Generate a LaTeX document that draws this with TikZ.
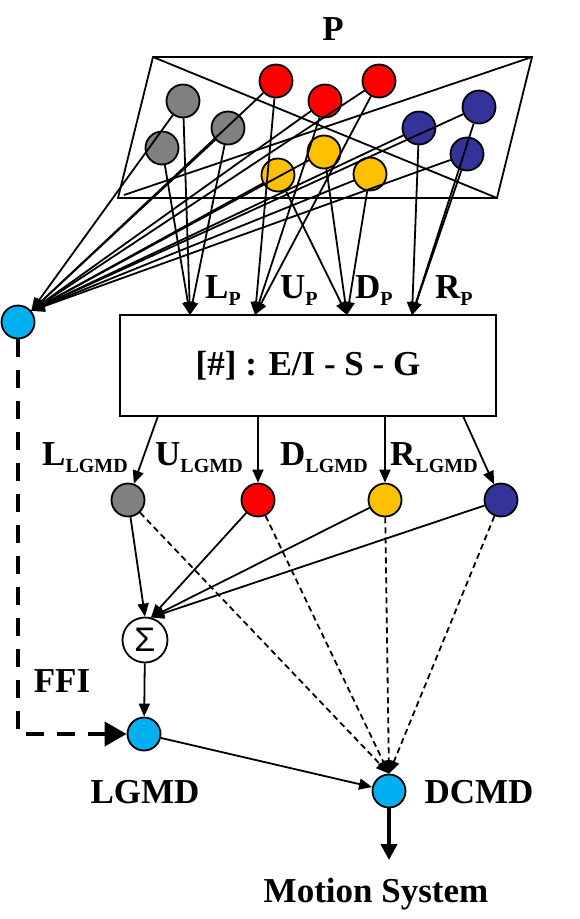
\documentclass[tikz,border=0pt]{standalone}
\usepackage{fontspec}
\setmainfont{Liberation Serif}
\newfontfamily\sigmafont{Liberation Sans}
\usepackage{xcolor}
\usepackage{tikz}
\usetikzlibrary{arrows.meta}
\definecolor{cellgray}{HTML}{808080}
\definecolor{cellred}{HTML}{FF0000}
\definecolor{cellyellow}{HTML}{FFC000}
\definecolor{cellblue}{HTML}{333399}
\definecolor{cellcyan}{HTML}{00B0F0}
\newcommand\subs[1]{\raisebox{-7pt}{\fontsize{20}{20}\selectfont #1}}
\tikzstyle{cell}=[circle, draw, line width=1.8pt, minimum size=33pt, inner sep=0pt]
\tikzstyle{sumcell}=[circle, draw, line width=1.8pt, fill=white, minimum size=45pt,
        inner sep=0pt, font=\sigmafont\fontsize{34}{34}\selectfont]
\tikzstyle{layerbox}=[rectangle, draw, line width=1.8pt, minimum width=376pt,
        minimum height=101pt, font=\fontsize{35}{40}\selectfont\bfseries]
\tikzstyle{lbl}=[inner sep=0pt, anchor=base, font=\fontsize{35}{40}\selectfont\bfseries]
\tikzstyle{arr}=[line width=1.8pt, -{Triangle[length=13pt,width=11pt]}]
\tikzstyle{darr}=[arr, dash pattern=on 6pt off 4pt]
\tikzstyle{ffiarr}=[line width=4pt, dash pattern=on 18pt off 13pt,
        -{Triangle[length=22pt,width=24pt]}]
\tikzstyle{outarr}=[line width=4pt, -{Triangle[length=16pt,width=16pt]}]

\begin{document}
\begin{tikzpicture}[x=1pt, y=-1pt]
      \useasboundingbox (0,0) rectangle (579,919);
      % Plane P
      \draw [line width=1.8pt] (153,57) -- (532,57) -- (497,198) -- (118,198) -- cycle;
      \draw [line width=1.8pt] (153,57) -- (497,198);
      \draw [line width=1.8pt] (532,57) -- (124,195);
      \node [lbl] (ptitle) at (333,40) {P};
      % Place nodes
      \node [cell, fill=cellgray] (g1) at (183,101) {};
      \node [cell, fill=cellgray] (g2) at (228,128) {};
      \node [cell, fill=cellgray] (g3) at (162,148) {};
      \node [cell, fill=cellred] (r1) at (276,81) {};
      \node [cell, fill=cellred] (r2) at (325,101) {};
      \node [cell, fill=cellred] (r3) at (379,81) {};
      \node [cell, fill=cellyellow] (y1) at (278,175) {};
      \node [cell, fill=cellyellow] (y2) at (324,152) {};
      \node [cell, fill=cellyellow] (y3) at (370,174) {};
      \node [cell, fill=cellblue] (b1) at (419,128) {};
      \node [cell, fill=cellblue] (b2) at (479,107) {};
      \node [cell, fill=cellblue] (b3) at (467,154) {};
      \node [cell, fill=cellcyan] (ffi) at (18,322) {};
      \node [layerbox] (layer) at (308,365.5) {[\#] : E/I - S - G};
      \coordinate (pL) at (190,315);
      \coordinate (pU) at (255,315);
      \coordinate (pD) at (347,315);
      \coordinate (pR) at (412,315);
      \coordinate (qL) at (158,416);
      \coordinate (qU) at (258,416);
      \coordinate (qD) at (385,416);
      \coordinate (qR) at (463,416);
      \node [lbl, anchor=base west] (lp) at (205,298) {L\subs{P}};
      \node [lbl, anchor=base west] (up) at (280,298) {U\subs{P}};
      \node [lbl, anchor=base west] (dp) at (355,298) {D\subs{P}};
      \node [lbl, anchor=base west] (rp) at (435,298) {R\subs{P}};
      \node [cell, fill=cellgray] (lg) at (128,500) {};
      \node [cell, fill=cellred] (lr) at (258,500) {};
      \node [cell, fill=cellyellow] (ly) at (385,500) {};
      \node [cell, fill=cellblue] (lb) at (501,500) {};
      \node [lbl, anchor=base west] (llgmd) at (42,465) {L\subs{LGMD}};
      \node [lbl, anchor=base west] (ulgmd) at (155,465) {U\subs{LGMD}};
      \node [lbl, anchor=base west] (dlgmd) at (280,465) {D\subs{LGMD}};
      \node [lbl, anchor=base west] (rlgmd) at (390,465) {R\subs{LGMD}};
      \node [sumcell] (sum) at (145,640) {Σ};
      \node [cell, fill=cellcyan] (lgmd) at (144,734) {};
      \node [cell, fill=cellcyan] (dcmd) at (389,791) {};
      \coordinate (mout) at (389,860);
      \node [lbl] (ffilbl) at (62,692) {FFI};
      \node [lbl] (lgmdlbl) at (145,803) {LGMD};
      \node [lbl] (dcmdlbl) at (479,803) {DCMD};
      \node [lbl] (motion) at (376,902) {Motion System};
      % Draw edges
      \draw [arr] (g1) -- (pL); \draw [arr] (g2) -- (pL); \draw [arr] (g3) -- (pL);
      \draw [arr] (r1) -- (pU); \draw [arr] (r2) -- (pU); \draw [arr] (r3) -- (pU);
      \draw [arr] (y1) -- (pD); \draw [arr] (y2) -- (pD); \draw [arr] (y3) -- (pD);
      \draw [arr] (b1) -- (pR); \draw [arr] (b2) -- (pR); \draw [arr] (b3) -- (pR);
      \draw [arr] (g1) -- (ffi.40); \draw [arr] (g2) -- (ffi.40);
      \draw [arr] (r1) -- (ffi.40); \draw [arr] (r2) -- (ffi.40); \draw [arr] (r3) -- (ffi.40);
      \draw [arr] (y1) -- (ffi.40); \draw [arr] (y2) -- (ffi.40); \draw [arr] (y3) -- (ffi.40);
      \draw [arr] (b1) -- (ffi.40); \draw [arr] (b2) -- (ffi.40); \draw [arr] (b3) -- (ffi.40);
      \draw [arr] (qL) -- (lg); \draw [arr] (qU) -- (lr);
      \draw [arr] (qD) -- (ly); \draw [arr] (qR) -- (lb);
      \draw [arr] (lg) -- (sum.north); \draw [arr] (lr) -- (sum.75);
      \draw [arr] (ly) -- (sum.75); \draw [arr] (lb) -- (sum.75);
      \draw [darr] (lg) -- (dcmd.north); \draw [darr] (lr) -- (dcmd.north);
      \draw [darr] (ly) -- (dcmd.north); \draw [darr] (lb) -- (dcmd.north);
      \draw [arr] (sum) -- (lgmd);
      \draw [arr] (lgmd) -- (dcmd);
      \draw [outarr] (dcmd) -- (mout);
      \draw [ffiarr] (ffi) |- (lgmd);
\end{tikzpicture}
\end{document}
